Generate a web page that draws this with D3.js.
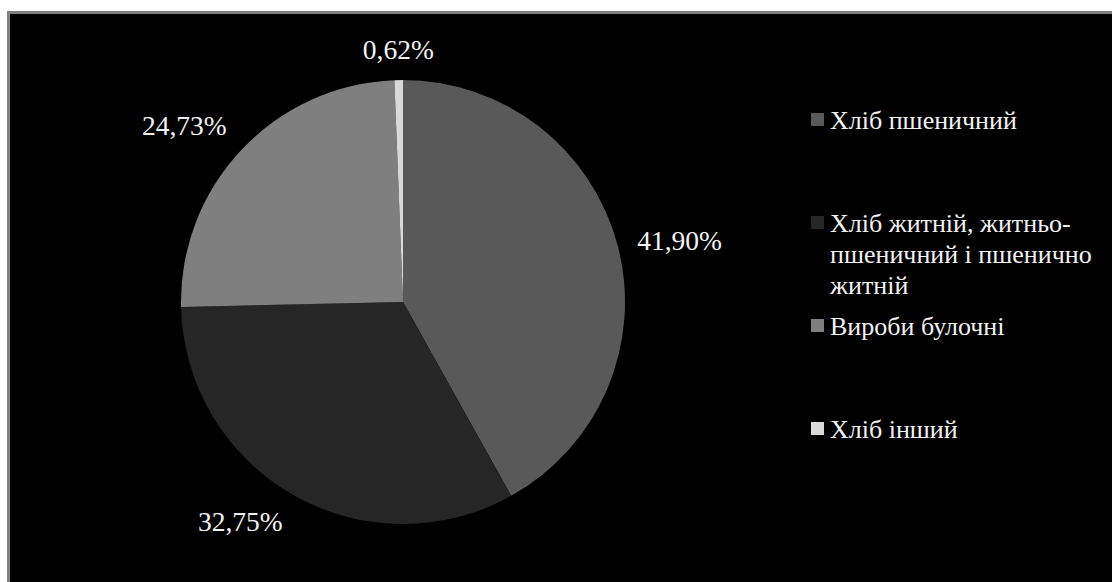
<!DOCTYPE html>
<html lang="uk">
<head>
<meta charset="utf-8">
<script src="https://cdn.jsdelivr.net/npm/d3@7"></script>
<style>
  html, body { margin: 0; padding: 0; background: #ffffff; }
  svg { display: block; }
</style>
</head>
<body>
<svg id="chart" width="1112" height="582"></svg>
<script>
// Structure of bread production, shares in percent
const categories = [
  "Хліб пшеничний",
  "Хліб житній, житньо-пшеничний і пшенично житній",
  "Вироби булочні",
  "Хліб інший"
];
const shares = [41.90, 32.75, 24.73, 0.62];
const shareLabels = ["41,90%", "32,75%", "24,73%", "0,62%"];
const sliceColors = ["#595959", "#262626", "#7f7f7f", "#d9d9d9"];

const W = 1112, H = 582;
const svg = d3.select("#chart");
const serif = "'Liberation Serif', 'Times New Roman', serif";
const labelSize = 27.5;
const legendSize = 26;

// chart area: black plot with a grey frame running off the right and bottom edges
svg.append("rect")
  .attr("x", 8.5).attr("y", 12.5)
  .attr("width", W + 20).attr("height", H + 20)
  .attr("fill", "#000000")
  .attr("stroke", "#808080")
  .attr("stroke-width", 3);

// pie
const cx = 403, cy = 302, radius = 222;
const pie = d3.pie().sort(null).value(d => d).startAngle(0).endAngle(2 * Math.PI);
const arcs = pie(shares);
const arc = d3.arc().innerRadius(0).outerRadius(radius);

const gPie = svg.append("g").attr("transform", `translate(${cx},${cy})`);
gPie.selectAll("path.slice")
  .data(arcs)
  .join("path")
  .attr("class", "slice")
  .attr("d", arc)
  .attr("fill", (d, i) => sliceColors[i]);

// data labels placed just outside the rim along each slice's mid angle
const labelRadius = 242;
const halfH = 10;
const ramp = t => Math.max(0, Math.min(1, (t - 0.26) / 0.2));
const gLab = svg.append("g");
arcs.forEach((d, i) => {
  const mid = (d.startAngle + d.endAngle) / 2;
  const ux = Math.sin(mid), uy = -Math.cos(mid);
  const ax = cx + labelRadius * ux, ay = cy + labelRadius * uy;
  const t = gLab.append("text")
    .attr("font-family", serif)
    .attr("font-size", labelSize)
    .attr("fill", "#f2f2f2")
    .attr("text-anchor", "middle")
    .text(shareLabels[i]);
  const halfW = t.node().getComputedTextLength() / 2;
  const sx = Math.sign(ux) * ramp(Math.abs(ux));
  const sy = Math.sign(uy) * ramp(Math.abs(uy));
  const lx = ax + sx * halfW, ly = ay + sy * halfH;
  t.attr("x", lx).attr("y", ly + 9);
});

// legend
const legX = 811, legTextX = 830, legTop = 119.5, legStep = 103, lineH = 31, sw = 13;
const maxLegW = 275;
const gLeg = svg.append("g");

function wrapLines(text) {
  // split on spaces, and also after hyphens
  const tokens = text.split(" ").flatMap((w, k, arr) => {
    const parts = w.split(/(?<=-)/);
    return parts.map((p, j) => p + (j === parts.length - 1 && k < arr.length - 1 ? " " : ""));
  });
  const probe = gLeg.append("text").attr("font-family", serif).attr("font-size", legendSize);
  const lines = [];
  let cur = "";
  tokens.forEach(tok => {
    const trial = cur + tok;
    probe.text(trial.trimEnd());
    if (cur && probe.node().getComputedTextLength() > maxLegW) {
      lines.push(cur.trimEnd());
      cur = tok;
    } else {
      cur = trial;
    }
  });
  if (cur) lines.push(cur.trimEnd());
  probe.remove();
  return lines;
}

categories.forEach((name, i) => {
  const yc = legTop + i * legStep;
  gLeg.append("rect")
    .attr("x", legX).attr("y", yc - sw / 2)
    .attr("width", sw).attr("height", sw)
    .attr("fill", sliceColors[i]);
  const t = gLeg.append("text")
    .attr("font-family", serif)
    .attr("font-size", legendSize)
    .attr("fill", "#f2f2f2");
  wrapLines(name).forEach((ln, k) => {
    t.append("tspan").attr("x", legTextX).attr("y", yc + 9 + k * lineH).text(ln);
  });
});
</script>
</body>
</html>
